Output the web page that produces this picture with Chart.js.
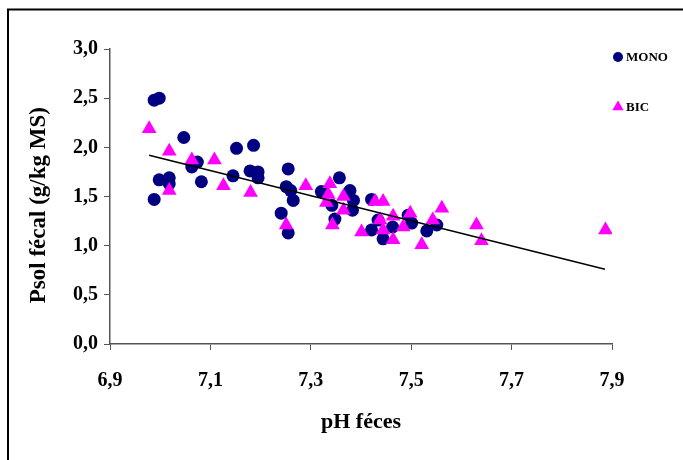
<!DOCTYPE html>
<html>
<head>
<meta charset="utf-8">
<script src="https://cdn.jsdelivr.net/npm/chart.js@4.4.0/dist/chart.umd.min.js"></script>
<style>
  html, body { margin: 0; padding: 0; background: #fff; }
  #wrap { position: relative; width: 683px; height: 460px; }
</style>
</head>
<body>
<div id="wrap"><canvas id="c" width="683" height="460"></canvas></div>
<script>
const monoX = [6.988, 6.998, 7.047, 7.152, 7.186, 7.074, 7.063, 6.998, 7.018, 7.018, 7.082, 6.988, 7.145, 7.179, 7.195, 7.195,
  7.255, 7.251, 7.260, 7.265, 7.241, 7.255, 7.357, 7.321, 7.342, 7.378, 7.385, 7.383, 7.348, 7.421, 7.421, 7.444, 7.434, 7.463,
  7.494, 7.501, 7.531, 7.551];
const monoY = [2.48, 2.50, 2.10, 1.99, 2.02, 1.85, 1.80, 1.67, 1.69, 1.63, 1.65, 1.47, 1.71, 1.76, 1.75, 1.69,
  1.78, 1.60, 1.56, 1.46, 1.33, 1.13, 1.69, 1.55, 1.41, 1.56, 1.46, 1.36, 1.27, 1.47, 1.16, 1.07, 1.26, 1.19,
  1.31, 1.23, 1.15, 1.21];
const bicX = [6.978, 7.018, 7.063, 7.108, 7.018, 7.126, 7.180, 7.290, 7.338, 7.335, 7.331, 7.365, 7.365, 7.343, 7.251,
  7.401, 7.428, 7.444, 7.438, 7.444, 7.464, 7.464, 7.484, 7.498, 7.521, 7.543, 7.561, 7.630, 7.640, 7.887];
const bicY = [2.19, 1.96, 1.87, 1.87, 1.56, 1.61, 1.54, 1.61, 1.63, 1.52, 1.44, 1.50, 1.36, 1.21, 1.21,
  1.14, 1.45, 1.45, 1.26, 1.16, 1.30, 1.06, 1.19, 1.33, 1.01, 1.26, 1.38, 1.21, 1.05, 1.16];
const trendX = [6.978, 7.886];
const trendY = [1.92, 0.76];
const xTicks = [6.9, 7.1, 7.3, 7.5, 7.7, 7.9];
const yTicks = [0, 0.5, 1.0, 1.5, 2.0, 2.5, 3.0];
const seriesNames = ['MONO', 'BIC'];

const toPts = (xs, ys) => xs.map((x, i) => ({x: x, y: ys[i]}));
const fmt = v => v.toFixed(1).replace('.', ',');

const frameAndLegend = {
  id: 'frameAndLegend',
  afterDraw(chart) {
    const ctx = chart.ctx;
    ctx.save();
    ctx.strokeStyle = '#000';
    ctx.lineWidth = 2;
    ctx.beginPath();
    ctx.moveTo(690, 9.5);
    ctx.lineTo(8, 9.5);
    ctx.lineTo(8, 470);
    ctx.stroke();
    const items = [
      {name: seriesNames[0], style: 'circle', color: '#000080', y: 57, r: 5},
      {name: seriesNames[1], style: 'triangle', color: '#FF00FF', y: 107, r: 6.5}
    ];
    ctx.font = 'bold 13px "Liberation Serif", "Times New Roman", serif';
    ctx.textBaseline = 'middle';
    ctx.textAlign = 'left';
    items.forEach(it => {
      ctx.fillStyle = it.color;
      ctx.beginPath();
      if (it.style === 'circle') {
        ctx.arc(618, it.y, it.r, 0, Math.PI * 2);
      } else {
        const r = it.r;
        ctx.moveTo(618, it.y - r);
        ctx.lineTo(618 + r * 0.866, it.y + r * 0.5);
        ctx.lineTo(618 - r * 0.866, it.y + r * 0.5);
        ctx.closePath();
      }
      ctx.fill();
      ctx.fillStyle = '#000';
      ctx.fillText(it.name, 626, it.y + 1);
    });
    ctx.restore();
  }
};

const fam = '"Liberation Serif", "Times New Roman", serif';
const tickFont = {family: fam, size: 20, weight: 'bold'};

new Chart(document.getElementById('c'), {
  type: 'scatter',
  data: {
    datasets: [
      {
        label: seriesNames[0],
        data: toPts(monoX, monoY),
        pointStyle: 'circle',
        pointRadius: 6.5,
        pointHoverRadius: 6.5,
        backgroundColor: '#000080',
        borderColor: '#000080',
        borderWidth: 0,
        order: 2
      },
      {
        label: seriesNames[1],
        data: toPts(bicX, bicY),
        pointStyle: 'triangle',
        pointRadius: 8.5,
        pointHoverRadius: 8.5,
        backgroundColor: '#FF00FF',
        borderColor: '#FF00FF',
        borderWidth: 0,
        order: 1
      },
      {
        type: 'line',
        label: 'trend',
        data: toPts(trendX, trendY),
        borderColor: '#000',
        borderWidth: 1.5,
        pointRadius: 0,
        fill: false,
        order: 0
      }
    ]
  },
  options: {
    responsive: false,
    animation: false,
    events: [],
    layout: {padding: {top: 49, right: 71, left: 0, bottom: 0}},
    plugins: {legend: {display: false}, tooltip: {enabled: false}},
    scales: {
      x: {
        type: 'linear',
        min: 6.9, max: 7.9,
        afterBuildTicks: s => { s.ticks = xTicks.map(v => ({value: v})); },
        afterFit: s => { s.height = 116; },
        grid: {display: true, drawOnChartArea: false, drawTicks: true, tickLength: 6, color: '#555', lineWidth: 1},
        border: {display: true, color: '#555', width: 1.5},
        ticks: {font: tickFont, color: '#000', padding: 19, maxRotation: 0, callback: v => fmt(v)},
        title: {display: true, text: 'pH féces', font: {family: fam, size: 22, weight: 'bold'}, color: '#000', padding: {top: 0, bottom: 24}}
      },
      y: {
        type: 'linear',
        min: 0, max: 3,
        afterBuildTicks: s => { s.ticks = yTicks.map(v => ({value: v})); },
        afterFit: s => { s.width = 110; },
        grid: {display: true, drawOnChartArea: false, drawTicks: true, tickLength: 6, color: '#555', lineWidth: 1},
        border: {display: true, color: '#555', width: 1.5},
        ticks: {font: tickFont, color: '#000', padding: 6, callback: v => fmt(v)},
        title: {display: true, text: 'Psol fécal (g/kg MS)\u00A0\u00A0\u00A0', font: {family: fam, size: 23, weight: 'bold'}, color: '#000', padding: {top: 25, bottom: 0}}
      }
    }
  },
  plugins: [frameAndLegend]
});
</script>
</body>
</html>
